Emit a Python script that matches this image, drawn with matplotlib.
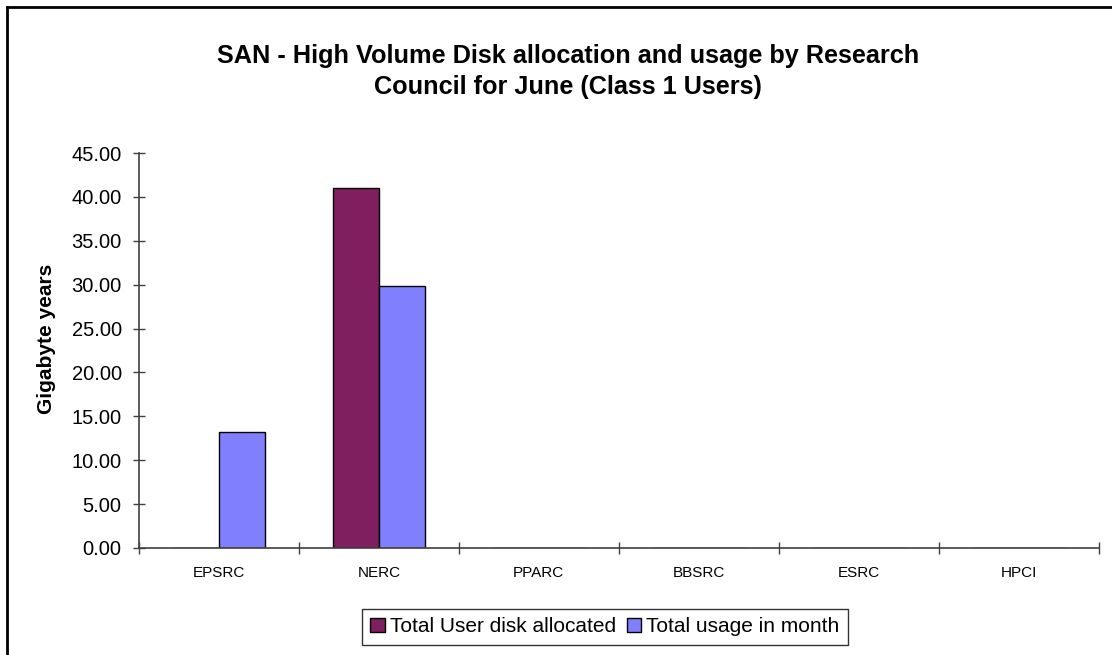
import matplotlib
matplotlib.use("Agg")
import matplotlib.pyplot as plt
import numpy as np
from matplotlib.lines import Line2D
from matplotlib.ticker import FixedLocator, FormatStrFormatter, NullFormatter

plt.rcParams["font.family"] = ["Liberation Sans", "DejaVu Sans"]

councils = ["EPSRC", "NERC", "PPARC", "BBSRC", "ESRC", "HPCI"]
allocated = [0.0, 41.0, 0.0, 0.0, 0.0, 0.0]
usage = [13.25, 29.85, 0.0, 0.0, 0.0, 0.0]
series_names = ["Total User disk allocated", "Total usage in month"]
colors = ["#7F1F5F", "#8080FF"]

fig = plt.figure(figsize=(11.12, 6.55), dpi=100)
ax = fig.add_axes([0.125, 0.1634, 0.863, 0.603])

x = np.arange(len(councils))
w = 0.2875
ax.bar(x - w / 2, allocated, w, color=colors[0], edgecolor="black", linewidth=1,
       label=series_names[0])
ax.bar(x + w / 2, usage, w, color=colors[1], edgecolor="black", linewidth=1,
       label=series_names[1])

ax.set_xlim(-0.5, len(councils) - 0.5)
ax.set_ylim(0, 45)
ax.set_yticks(np.arange(0, 46, 5))
ax.yaxis.set_major_formatter(FormatStrFormatter("%.2f"))
ax.tick_params(axis="y", direction="inout", length=9, width=1, color="#404040",
               labelsize=14.5, pad=8)

# category boundaries get the tick marks, centres get the labels
ax.xaxis.set_major_locator(FixedLocator(np.arange(-0.5, len(councils), 1.0)))
ax.xaxis.set_major_formatter(NullFormatter())
ax.xaxis.set_minor_locator(FixedLocator(x))
ax.set_xticklabels(councils, minor=True)
ax.tick_params(axis="x", which="major", direction="inout", length=9, width=1,
               color="#404040")
ax.tick_params(axis="x", which="minor", length=0, labelsize=11, pad=13)

for s in ["top", "right"]:
    ax.spines[s].set_visible(False)
for s in ["left", "bottom"]:
    ax.spines[s].set_color("#404040")
    ax.spines[s].set_linewidth(1.2)

ax.set_ylabel("Gigabyte years", fontsize=15, fontweight="bold")
ax.yaxis.set_label_coords(-0.086, 0.53)

fig.text(0.511, 0.891,
         "SAN - High Volume Disk allocation and usage by Research\nCouncil for June (Class 1 Users)",
         ha="center", va="center", fontsize=18.2, fontweight="bold", linespacing=1.35)

leg = ax.legend(loc="center", bbox_to_anchor=(0.544, 0.043), bbox_transform=fig.transFigure,
                ncol=2, fontsize=15, frameon=True, fancybox=False, shadow=False,
                handlelength=0.7, handleheight=0.7, handletextpad=0.25,
                columnspacing=0.5, borderpad=0.4, borderaxespad=0)
leg.get_frame().set_edgecolor("black")
leg.get_frame().set_linewidth(1)

# chart area border (left and top edges visible in the original)
fig.add_artist(Line2D([0.0063, 0.0063], [0, 0.9893], color="black", lw=2,
                      transform=fig.transFigure))
fig.add_artist(Line2D([0.0063, 1.0], [0.9893, 0.9893], color="black", lw=2,
                      transform=fig.transFigure))

fig.savefig("out.png", dpi=100)
